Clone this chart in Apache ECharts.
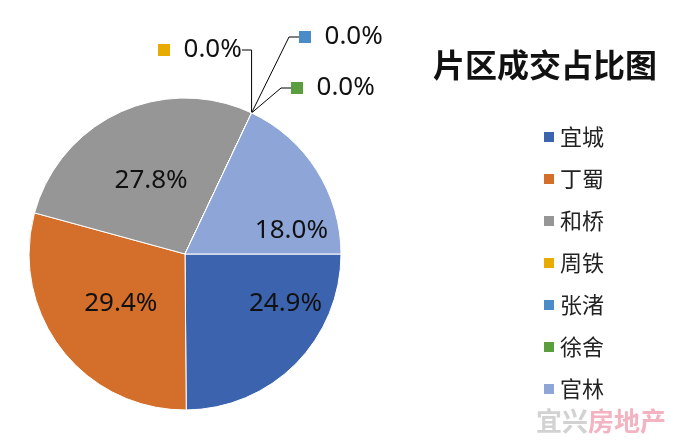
<!DOCTYPE html>
<html><head><meta charset="utf-8">
<script src="https://cdn.jsdelivr.net/npm/echarts@6/dist/echarts.min.js"></script>
<style>html,body{margin:0;padding:0;background:#fff}#c{width:700px;height:446px}</style>
</head><body><div id="c"></div>
<script>
const categories = ['宜城','丁蜀','和桥','周铁','张渚','徐舍','官林'];
const values = [24.9, 29.4, 27.8, 0, 0, 0, 18.0];
const colors = ['#3C64AE','#D36F2B','#969696','#E8AC00','#4B8CC8','#5B9E3D','#8EA5D8'];
const titleText = '片区成交占比图';

const chart = echarts.init(document.getElementById('c'));
const font = 'Noto Sans, "Noto Sans CJK SC", sans-serif';
const data = categories.map((name, i) => {
  const item = { name, value: values[i], itemStyle: { color: colors[i] } };
  if (values[i] === 0) {
    item.label = {
      position: 'outside',
      formatter: '{sq|}  {v|' + values[i].toFixed(1) + '%}',
      rich: {
        sq: { width: 12, height: 12, backgroundColor: colors[i] },
        v: { fontSize: 26, color: '#111', fontFamily: font }
      }
    };
    item.labelLine = { show: true, length: 10, length2: 10, lineStyle: { color: '#000', width: 1 } };
  }
  return item;
});
const zeroPos = { 3: [158, 50], 4: [299, 37], 5: [291, 88] };
const insideShift = { 0: [43, -7], 6: [38, 20] };

chart.setOption({
  animation: false,
  title: {
    text: titleText, left: 428, top: 44,
    textStyle: { fontSize: 32, fontWeight: 'bold', color: '#111', fontFamily: '"Noto Sans CJK SC", sans-serif' }
  },
  legend: {
    orient: 'vertical', left: 537, top: 121,
    itemWidth: 12, itemHeight: 12, itemGap: 20, icon: 'rect',
    data: categories,
    textStyle: { fontSize: 22, lineHeight: 22, color: '#222', fontFamily: '"Noto Sans CJK SC", sans-serif', padding: [0,0,0,0] }
  },
  graphic: [{
    type: 'text', left: 536, top: 408,
    style: {
      text: '{a|宜兴}{b|房地产}',
      rich: {
        a: { fontSize: 26, fontWeight: 'bold', fill: '#d2d2d2', fontFamily: '"Noto Sans CJK SC", sans-serif' },
        b: { fontSize: 26, fontWeight: 'bold', fill: '#f4b3c0', fontFamily: '"Noto Sans CJK SC", sans-serif' }
      }
    }
  }],
  series: [{
    type: 'pie',
    center: [185, 254], radius: 156,
    startAngle: 0, clockwise: true,
    avoidLabelOverlap: false,
    itemStyle: { borderColor: '#fff', borderWidth: 1 },
    label: {
      position: 'inside',
      formatter: p => p.value.toFixed(1) + '%',
      fontSize: 26, color: '#111', fontFamily: font
    },
    labelLine: { show: false },
    labelLayout: function (p) {
      if (zeroPos[p.dataIndex]) {
        const q = zeroPos[p.dataIndex];
        return { x: q[0], y: q[1], align: 'left', verticalAlign: 'middle' };
      }
      if (insideShift[p.dataIndex]) {
        const s = insideShift[p.dataIndex];
        return { dx: s[0], dy: s[1] };
      }
      return {};
    },
    data
  }]
});
</script></body></html>
